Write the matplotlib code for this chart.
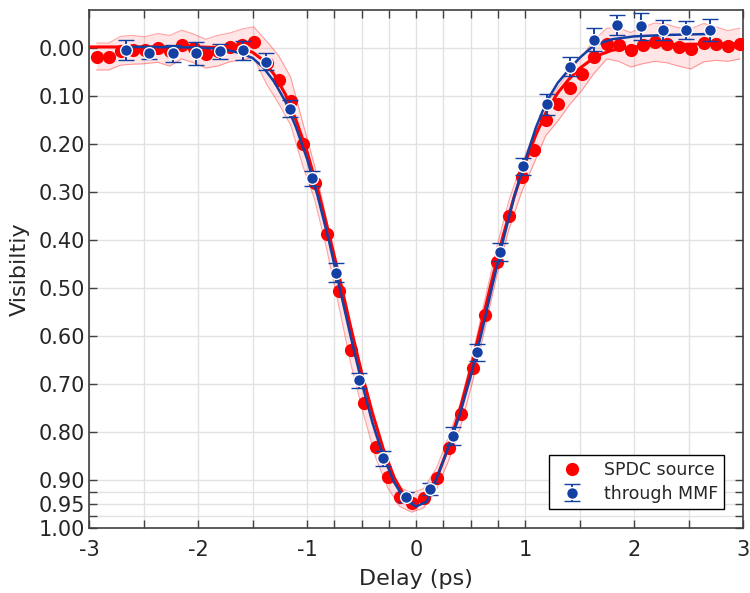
import numpy as np
import matplotlib
matplotlib.use("Agg")
import matplotlib.pyplot as plt

# SPDC source (red): delay (ps), visibility, band half-width
red_x = [-2.93, -2.82, -2.71, -2.60, -2.49, -2.37, -2.26, -2.15, -2.04, -1.93,
         -1.82, -1.71, -1.60, -1.49, -1.37, -1.26, -1.15, -1.04, -0.93, -0.82,
         -0.71, -0.60, -0.48, -0.37, -0.26, -0.15, -0.04, 0.07, 0.19, 0.30,
         0.41, 0.52, 0.63, 0.74, 0.85, 0.97, 1.08, 1.19, 1.30, 1.41,
         1.52, 1.63, 1.75, 1.86, 1.97, 2.08, 2.19, 2.30, 2.41, 2.52,
         2.64, 2.75, 2.86, 2.97]
red_y = [0.017, 0.017, 0.005, 0.003, 0.004, -0.001, 0.005, -0.008, 0.000, 0.011,
         0.005, -0.002, -0.008, -0.013, 0.030, 0.065, 0.110, 0.199, 0.280, 0.388,
         0.505, 0.628, 0.739, 0.831, 0.894, 0.935, 0.947, 0.938, 0.896, 0.834,
         0.763, 0.666, 0.556, 0.445, 0.349, 0.269, 0.211, 0.150, 0.117, 0.082,
         0.053, 0.018, -0.010, -0.008, 0.003, -0.006, -0.013, -0.010, -0.003, 0.001,
         -0.012, -0.010, -0.005, -0.010]
red_err = [0.028, 0.028, 0.030, 0.030, 0.028, 0.030, 0.032, 0.030, 0.030, 0.030,
           0.032, 0.030, 0.032, 0.032, 0.045, 0.050, 0.050, 0.045, 0.035, 0.030,
           0.030, 0.028, 0.025, 0.022, 0.022, 0.020, 0.020, 0.020, 0.022, 0.025,
           0.025, 0.028, 0.030, 0.030, 0.030, 0.030, 0.030, 0.032, 0.035, 0.035,
           0.035, 0.035, 0.032, 0.035, 0.036, 0.038, 0.040, 0.040, 0.040, 0.042,
           0.040, 0.035, 0.032, 0.032]

# through MMF (blue)
blue_x = [-2.66, -2.45, -2.23, -2.02, -1.80, -1.59, -1.38, -1.16, -0.95, -0.73,
          -0.52, -0.30, -0.09, 0.13, 0.34, 0.56, 0.77, 0.98, 1.20, 1.41,
          1.63, 1.84, 2.06, 2.27, 2.48, 2.70]
blue_y = [0.004, 0.009, 0.010, 0.010, 0.006, 0.004, 0.028, 0.126, 0.271, 0.468,
          0.692, 0.855, 0.935, 0.919, 0.808, 0.634, 0.424, 0.246, 0.117, 0.038,
          -0.018, -0.048, -0.046, -0.038, -0.038, -0.038]
blue_err = [0.021, 0.013, 0.018, 0.024, 0.016, 0.020, 0.018, 0.018, 0.016, 0.020,
            0.016, 0.015, 0.011, 0.013, 0.019, 0.018, 0.019, 0.018, 0.021, 0.019,
            0.024, 0.021, 0.028, 0.021, 0.019, 0.023]

# fitted curves
red_fit_x = [-3.0, -2.0, -1.7, -1.6, -1.5, -1.4, -1.3, -1.2, -1.1, -1.0, -0.9, -0.8,
             -0.7, -0.6, -0.5, -0.4, -0.3, -0.2, -0.1, -0.03, 0.05, 0.1, 0.2, 0.3,
             0.4, 0.5, 0.6, 0.7, 0.8, 0.9, 1.0, 1.1, 1.2, 1.3, 1.4, 1.5, 1.6,
             1.7, 1.8, 2.0, 2.3, 3.0]
red_fit_y = [-0.003, -0.003, -0.001, 0.002, 0.008, 0.025, 0.055, 0.095, 0.150, 0.215, 0.295, 0.385,
             0.480, 0.580, 0.675, 0.760, 0.835, 0.895, 0.935, 0.946, 0.943, 0.930, 0.890, 0.830,
             0.755, 0.670, 0.575, 0.480, 0.390, 0.310, 0.240, 0.180, 0.130, 0.093, 0.065, 0.042, 0.025,
             0.012, 0.004, -0.003, -0.008, -0.010]
blue_fit_x = [-2.66, -2.0, -1.8, -1.7, -1.6, -1.5, -1.4, -1.3, -1.2, -1.1, -1.0, -0.9,
              -0.8, -0.7, -0.6, -0.5, -0.4, -0.3, -0.2, -0.1, 0.0, 0.1, 0.2, 0.3,
              0.4, 0.5, 0.6, 0.7, 0.8, 0.9, 1.0, 1.1, 1.2, 1.3, 1.4, 1.5, 1.6,
              1.7, 1.8, 2.0, 2.3, 2.7]
blue_fit_y = [-0.003, -0.002, 0.001, 0.005, 0.011, 0.020, 0.040, 0.070, 0.110, 0.165, 0.230, 0.310,
              0.400, 0.500, 0.600, 0.695, 0.780, 0.850, 0.905, 0.942, 0.955, 0.945, 0.890, 0.830,
              0.765, 0.685, 0.595, 0.495, 0.400, 0.310, 0.235, 0.165, 0.110, 0.072, 0.045, 0.020, 0.000,
              -0.012, -0.019, -0.025, -0.028, -0.030]

xticks_major = [-3, -2, -1, 0, 1, 2, 3]
xticks_minor = [-2.5, -1.5, -0.75, -0.5, -0.25, 0.25, 0.5, 0.75, 1.5, 2.5]
yticks_major = [0.0, 0.1, 0.2, 0.3, 0.4, 0.5, 0.6, 0.7, 0.8, 0.9, 0.95, 1.0]
yticks_minor = [0.925, 0.975]

RED = "#ff0000"
BLUE = "#1340a2"
TXT = "#262626"

plt.rcParams["font.family"] = ["DejaVu Sans"]

fig = plt.figure(figsize=(7.5, 5.93), dpi=100)
ax = fig.add_axes([89 / 750, 1 - 528 / 593, (743 - 89) / 750, (528 - 10) / 593])

ry = np.array(red_y)
re = np.array(red_err)
ax.fill_between(red_x, ry - re, ry + re, color=RED, alpha=0.1, lw=0, zorder=2)
ax.plot(red_x, ry - re, color=RED, alpha=0.35, lw=0.8, zorder=2)
ax.plot(red_x, ry + re, color=RED, alpha=0.35, lw=0.8, zorder=2)

ax.plot(red_fit_x, red_fit_y, color=RED, lw=2.2, zorder=3)
ax.plot(red_x, red_y, "o", color=RED, ms=9.5, mew=0, zorder=4, label="SPDC source")

ax.plot(blue_fit_x, blue_fit_y, color=BLUE, lw=1.8, zorder=5)
ax.errorbar(blue_x, blue_y, yerr=blue_err, fmt="o", color=BLUE, ms=8.5, mec="white",
            mew=1.0, ecolor=BLUE, elinewidth=1.4, capsize=5.5, capthick=1.8,
            zorder=6, label="through MMF")

ax.set_xlim(-3, 3)
ax.set_ylim(1.0, -0.08)
ax.set_xticks(xticks_major)
ax.set_xticks(xticks_minor, minor=True)
ax.set_xticklabels([str(t) for t in xticks_major])
ax.set_yticks(yticks_major)
ax.set_yticks(yticks_minor, minor=True)
ax.set_yticklabels(["%.2f" % t for t in yticks_major])

ax.grid(True, which="both", color="#e2e2e2", lw=1.0, zorder=0)
ax.set_axisbelow(True)
ax.tick_params(which="both", direction="in", top=True, right=True, length=6,
               width=1.0, color="#404040", labelsize=15, labelcolor=TXT)
ax.tick_params(axis="y", pad=3)
ax.tick_params(axis="x", pad=9)
for s in ax.spines.values():
    s.set_color("#404040")
    s.set_linewidth(1.2)

ax.set_xlabel("Delay (ps)", fontsize=16, color=TXT, labelpad=6)
ax.set_ylabel("Visibiltiy", fontsize=16, color=TXT, labelpad=6)

leg = ax.legend(loc="lower right", fontsize=12.5, fancybox=False, framealpha=1,
                edgecolor="black", borderaxespad=1.1, handletextpad=0.8,
                borderpad=0.35, labelspacing=0.35)
leg.get_frame().set_linewidth(1.0)
for t in leg.get_texts():
    t.set_color(TXT)

fig.savefig("out.png", dpi=100)
